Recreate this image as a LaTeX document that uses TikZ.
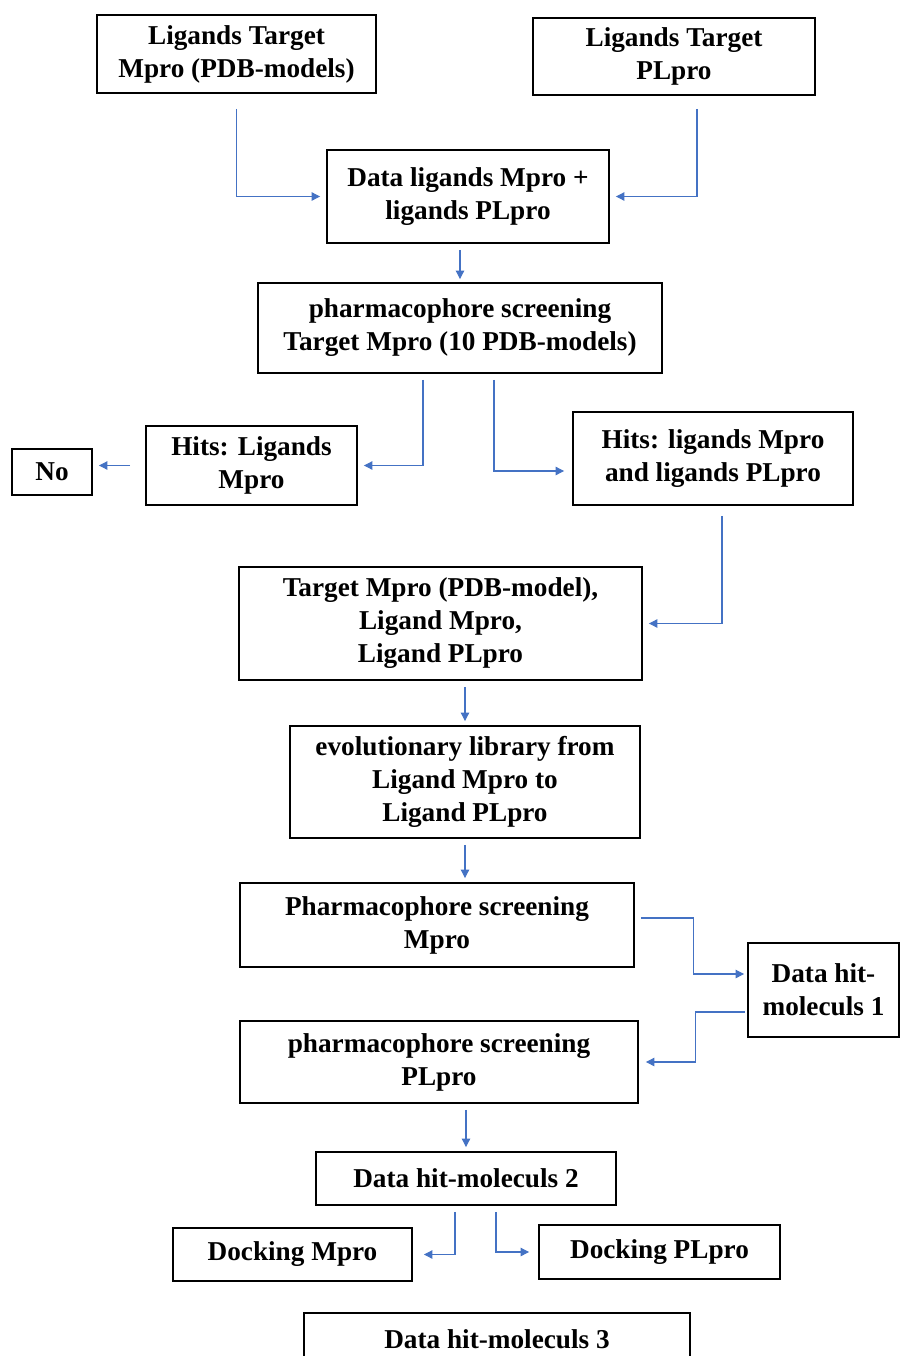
\documentclass[tikz,border=0pt]{standalone}
\usepackage{fontspec}
\setmainfont{Liberation Serif}
\usetikzlibrary{arrows.meta, calc}
\definecolor{flowblue}{HTML}{4472C4}

\begin{document}
\begin{tikzpicture}[x=0.02cm, y=-0.02cm,
    box/.style={draw=black, line width=1.1pt, align=center, inner sep=2pt,
      font=\bfseries\fontsize{15.5}{18.8}\selectfont},
    link/.style={draw=flowblue, line width=0.6pt,
      -{Triangle[length=1.7mm, width=1.7mm]},
      shorten <=0.12cm, shorten >=0.12cm}]
      \clip (0,0) rectangle (900,1356);

      \node[box, minimum width=5.58cm, minimum height=1.56cm] (ligmpro)
        at (236.5,54) {Ligands Target\\Mpro (PDB-models)};
      \node[box, minimum width=5.64cm, minimum height=1.54cm] (ligplpro)
        at (674,56.5) {Ligands Target\\PLpro};
      \node[box, minimum width=5.64cm, minimum height=1.86cm] (dataligands)
        at (468,196.5) {Data ligands Mpro +\\ligands PLpro};
      \node[box, minimum width=8.08cm, minimum height=1.8cm] (screening10)
        at (460,328) {pharmacophore screening\\Target Mpro (10 PDB-models)};

      \node[box, minimum width=1.6cm, minimum height=0.92cm] (nohit)
        at (52,472) {No};
      \node[box, minimum width=4.22cm, minimum height=1.58cm] (hitsmpro)
        at (251.5,465.5) {Hits: Ligands\\Mpro};
      \node[box, minimum width=5.6cm, minimum height=1.86cm] (hitsboth)
        at (713,458.5) {Hits: ligands Mpro\\and ligands PLpro};

      \node[box, minimum width=8.06cm, minimum height=2.26cm] (targetset)
        at (440.5,623.5) {Target Mpro (PDB-model),\\Ligand Mpro,\\Ligand PLpro};
      \node[box, minimum width=7.0cm, minimum height=2.24cm] (evolib)
        at (465,782) {evolutionary library from\\Ligand Mpro to\\Ligand PLpro};

      \node[box, minimum width=7.88cm, minimum height=1.68cm] (screenmpro)
        at (437,925) {Pharmacophore screening\\Mpro};
      \node[box, minimum width=3.02cm, minimum height=1.88cm] (hits1)
        at (823.5,990) {Data hit-\\moleculs 1};
      \node[box, minimum width=7.96cm, minimum height=1.64cm] (screenplpro)
        at (439,1062) {pharmacophore screening\\PLpro};

      \node[box, minimum width=6.0cm, minimum height=1.06cm] (hits2)
        at (466,1178.5) {Data hit-moleculs 2};
      \node[box, minimum width=4.78cm, minimum height=1.06cm] (dockmpro)
        at (292.5,1254.5) {Docking Mpro};
      \node[box, minimum width=4.82cm, minimum height=1.08cm] (dockplpro)
        at (659.5,1252) {Docking PLpro};
      \node[box, anchor=north, minimum width=7.72cm, inner ysep=0.1cm,
        text height=0.62cm, text depth=0.8cm] (hits3)
        at (497,1312) {Data hit-moleculs 3};

      \draw[link, shorten <=0.3cm] (ligmpro.south) |- (dataligands.west);
      \draw[link, shorten <=0.26cm] ([xshift=0.46cm]ligplpro.south)
        |- (dataligands.east);
      \draw[link, shorten >=0.06cm] (dataligands.south -| screening10.north)
        -- (screening10.north);
      \draw[link] ([xshift=-0.74cm]screening10.south) |- (hitsmpro.east);
      \draw[link, shorten >=0.16cm] ([xshift=0.68cm]screening10.south)
        |- ([yshift=-0.25cm]hitsboth.west);
      \draw[link, shorten <=0.3cm] (hitsmpro.west) -- (hitsmpro.west -| nohit.east);
      \draw[link, shorten <=0.2cm] ([xshift=0.18cm]hitsboth.south)
        |- (targetset.east);
      \draw[link, shorten >=0.08cm] (targetset.south -| evolib.north)
        -- (evolib.north);
      \draw[link, shorten >=0.08cm] (evolib.south)
        -- (evolib.south |- screenmpro.north);
      \draw[link, shorten >=0.06cm] ([yshift=0.14cm]screenmpro.east)
        -- ++(1.18cm,0) |- ([yshift=0.32cm]hits1.west);
      \draw[link, shorten <=0.04cm, shorten >=0.14cm]
        ([yshift=-0.44cm]hits1.west) -- ++(-1.04cm,0) |- (screenplpro.east);
      \draw[link, shorten >=0.08cm] (screenplpro.south -| hits2.north)
        -- (hits2.north);
      \draw[link, shorten >=0.22cm] ([xshift=-0.22cm]hits2.south)
        |- (dockmpro.east);
      \draw[link, shorten >=0.18cm] ([xshift=0.6cm]hits2.south)
        |- (dockplpro.west);
    \end{tikzpicture}
\end{document}
